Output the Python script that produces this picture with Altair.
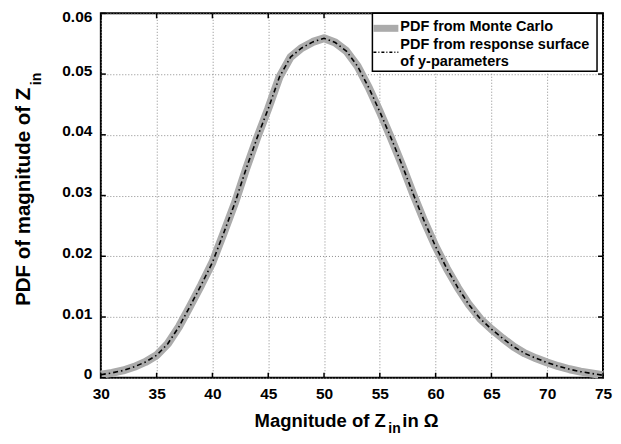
import altair as alt
import pandas as pd

# ---------------- data ----------------
x_vals = list(range(30, 76))
mc_pdf = [0.0005, 0.0008, 0.0012, 0.0018, 0.0026, 0.0037, 0.0056, 0.0084, 0.0118, 0.0153,
          0.0190, 0.0238, 0.0287, 0.0343, 0.0395, 0.0443, 0.0495, 0.0528, 0.0543, 0.0553,
          0.0559, 0.0552, 0.0538, 0.0513, 0.0478, 0.0438, 0.0395, 0.0350, 0.0302, 0.0257,
          0.0216, 0.0180, 0.0148, 0.0120, 0.0097, 0.0080, 0.0065, 0.0051, 0.0040, 0.0032,
          0.0025, 0.0019, 0.0014, 0.0010, 0.0007, 0.0004]
rs_pdf = [0.0005, 0.0008, 0.0012, 0.0018, 0.0026, 0.0037, 0.0056, 0.0084, 0.0118, 0.0153,
          0.0190, 0.0238, 0.0287, 0.0343, 0.0395, 0.0443, 0.0495, 0.0528, 0.0543, 0.0553,
          0.0559, 0.0552, 0.0538, 0.0513, 0.0478, 0.0438, 0.0395, 0.0350, 0.0302, 0.0257,
          0.0216, 0.0180, 0.0148, 0.0120, 0.0097, 0.0080, 0.0065, 0.0051, 0.0040, 0.0032,
          0.0025, 0.0019, 0.0014, 0.0010, 0.0007, 0.0004]
x_ticks = [30, 35, 40, 45, 50, 55, 60, 65, 70, 75]
y_ticks = [0, 0.01, 0.02, 0.03, 0.04, 0.05, 0.06]
legend_labels = ["PDF from Monte Carlo", "PDF from response surface", " of y-parameters"]
x_title_parts = ["Magnitude of Z", "in", " in \u03a9"]
y_title_parts = ["PDF of magnitude of Z", "in"]

# ---------------- layout ----------------
W, H = 503, 365
FONT = "Liberation Sans"
GRAY = "#ababab"

df = pd.DataFrame({"x": x_vals, "mc": mc_pdf, "rs": rs_pdf})
xt = pd.DataFrame({"t": x_ticks})
yt = pd.DataFrame({"t": y_ticks})
one = pd.DataFrame({"k": [0]})

xs = alt.Scale(domain=[30, 75], nice=False, zero=False)
ys = alt.Scale(domain=[0, 0.06], nice=False, zero=False)

xaxis = alt.Axis(values=x_ticks, grid=True, gridDash=[1, 2], gridColor="#8c8c8c",
                 gridWidth=1, ticks=False, domain=False, title=None,
                 labelFont=FONT, labelFontSize=15.5, labelFontWeight="bold",
                 labelColor="black", labelPadding=9, labelFlush=False)
yaxis = alt.Axis(values=y_ticks, grid=True, gridDash=[1, 2], gridColor="#8c8c8c",
                 gridWidth=1, ticks=False, domain=False, title=None,
                 labelFont=FONT, labelFontSize=15.5, labelFontWeight="bold",
                 labelColor="black", labelPadding=9, labelFlush=False,
                 labelOffset={"condition": {"test": "datum.value >= 0.059", "value": 3},
                              "value": -4},
                 labelExpr="datum.value == 0 ? '0' : format(datum.value, '.2f')")

X = alt.X("x:Q", scale=xs, axis=xaxis)

mc_line = alt.Chart(df).mark_line(color=GRAY, strokeWidth=8, strokeJoin="round").encode(
    x=X, y=alt.Y("mc:Q", scale=ys, axis=yaxis))
rs_line = alt.Chart(df).mark_line(color="black", strokeWidth=1.6,
                                  strokeDash=[5, 3, 1.5, 3]).encode(
    x=X, y=alt.Y("rs:Q", scale=ys, axis=yaxis))

TL = 5
tick_b = alt.Chart(xt).mark_rule(color="black", strokeWidth=1.5).encode(
    x=alt.X("t:Q", scale=xs, axis=xaxis), y=alt.value(H), y2=alt.value(H - TL))
tick_t = alt.Chart(xt).mark_rule(color="black", strokeWidth=1.5).encode(
    x=alt.X("t:Q", scale=xs, axis=xaxis), y=alt.value(0), y2=alt.value(TL))
tick_l = alt.Chart(yt).mark_rule(color="black", strokeWidth=1.5).encode(
    y=alt.Y("t:Q", scale=ys, axis=yaxis), x=alt.value(0), x2=alt.value(TL))
tick_r = alt.Chart(yt).mark_rule(color="black", strokeWidth=1.5).encode(
    y=alt.Y("t:Q", scale=ys, axis=yaxis), x=alt.value(W), x2=alt.value(W - TL))

# ---------------- legend ----------------
LX0, LX1, LY0, LY1 = 272, 497, 0, 58
leg_box = alt.Chart(one).mark_rect(fill="white", stroke="black", strokeWidth=1.5).encode(
    x=alt.value(LX0), x2=alt.value(LX1), y=alt.value(LY0), y2=alt.value(LY1))
leg_sw1 = alt.Chart(one).mark_rule(color=GRAY, strokeWidth=7).encode(
    x=alt.value(LX0 + 1), x2=alt.value(LX0 + 26), y=alt.value(15))
leg_sw2 = alt.Chart(one).mark_rule(color="black", strokeWidth=1.5,
                                   strokeDash=[3, 2, 1, 2]).encode(
    x=alt.value(LX0 + 1), x2=alt.value(LX0 + 26), y=alt.value(39))

def txt(s, x, y, size, align="left", angle=0, baseline="middle"):
    return alt.Chart(one).mark_text(text=s, font=FONT, fontWeight="bold", fontSize=size,
                                    align=align, baseline=baseline, angle=angle,
                                    color="black").encode(x=alt.value(x), y=alt.value(y))

leg_t1 = txt(legend_labels[0], LX0 + 28, 14, 14.5)
leg_t2 = txt(legend_labels[1], LX0 + 28, 32, 14.5)
leg_t3 = txt(legend_labels[2], LX0 + 28, 49, 14.5)

# ---------------- axis titles ----------------
XT0 = 154
xt1 = txt(x_title_parts[0], XT0, 414, 18.5, align="left", baseline="alphabetic")
xt2 = txt(x_title_parts[1], XT0 + 134, 420.5, 14, baseline="alphabetic")
xt3 = txt(x_title_parts[2], XT0 + 148, 414, 18.5, baseline="alphabetic")

yt1 = txt(y_title_parts[0], -71, 293, 20.5, align="left", angle=270, baseline="alphabetic")
yt2 = txt(y_title_parts[1], -60, 72, 14, align="left", angle=270, baseline="alphabetic")

chart = alt.layer(
    mc_line, rs_line, tick_b, tick_t, tick_l, tick_r,
    leg_box, leg_sw1, leg_sw2, leg_t1, leg_t2, leg_t3,
    xt1, xt2, xt3, yt1, yt2
).properties(
    width=W, height=H,
    autosize=alt.AutoSizeParams(type="none"),
    padding={"left": 93, "top": 5, "right": 10, "bottom": 58},
    background="white",
).configure_view(stroke="black", strokeWidth=2)

chart.save("out.html", embed_options={"renderer": "svg", "actions": False})
